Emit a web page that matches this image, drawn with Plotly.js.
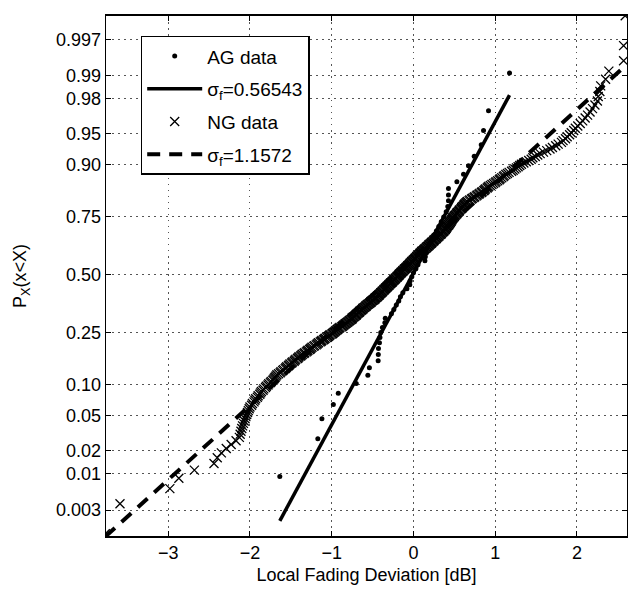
<!DOCTYPE html>
<html>
<head>
<meta charset="utf-8">
<script src="https://cdn.plot.ly/plotly-3.0.1.min.js"></script>
<style>html,body{margin:0;padding:0;background:#fff;}#chart{width:629px;height:591px;}</style>
</head>
<body>
<div id="chart"></div>
<script>
// ---------- data ----------
// AG data: sorted local fading deviation samples [dB] (54 samples)
const agX = [-1.635,-1.17,-1.12,-0.98,-0.92,-0.70,-0.558,-0.539,-0.432,-0.430,-0.428,-0.416,-0.41,-0.40,-0.38,-0.35,-0.345,-0.27,-0.24,-0.21,-0.18,-0.16,-0.13,-0.08,-0.045,-0.04,-0.02,0.00,0.03,0.055,0.14,0.145,0.15,0.16,0.19,0.22,0.25,0.28,0.31,0.34,0.37,0.40,0.42,0.428,0.428,0.428,0.531,0.612,0.673,0.743,0.829,0.857,0.918,1.175];

// NG data: sorted local fading deviation samples [dB] (400 samples)
const ngX = [
-3.77,-3.59,-2.98,-2.87,-2.68,-2.44,-2.40,-2.35,-2.29,-2.23,-2.17,-2.13,
-2.12,-2.11,-2.10,-2.09,-2.08,-2.07,-2.06,-2.05,
-2.04,-2.03,-2.02,-2.01,-2.00,-1.98,-1.97,-1.95,
-1.94,-1.93,-1.91,-1.90,-1.88,-1.87,-1.86,-1.84,-1.83,-1.81,-1.80,-1.78,
-1.77,-1.75,-1.74,-1.72,-1.71,-1.70,-1.69,-1.68,
-1.67,-1.65,-1.63,-1.62,-1.60,-1.59,-1.57,-1.56,-1.55,-1.53,-1.52,-1.51,
-1.49,-1.48,-1.46,-1.45,-1.44,-1.42,-1.41,-1.40,-1.38,-1.37,-1.36,-1.34,-1.33,-1.31,-1.30,-1.29,-1.27,-1.26,-1.25,-1.24,
-1.22,-1.21,-1.19,-1.18,-1.17,-1.16,-1.14,-1.13,-1.12,-1.10,-1.09,-1.08,-1.06,-1.05,-1.04,-1.03,-1.02,-1.00,-0.99,-0.98,
-0.97,-0.96,-0.95,-0.94,-0.93,-0.92,-0.91,-0.90,-0.88,-0.87,-0.86,-0.85,-0.84,-0.83,-0.82,-0.81,-0.80,-0.79,-0.78,-0.77,
-0.76,-0.75,-0.75,-0.74,-0.73,-0.72,-0.71,-0.70,-0.70,-0.69,-0.68,-0.67,-0.66,-0.66,-0.65,-0.64,-0.63,-0.62,-0.62,-0.61,
-0.60,-0.59,-0.58,-0.58,-0.57,-0.56,-0.55,-0.54,-0.53,-0.52,-0.52,-0.51,-0.50,-0.49,-0.48,-0.47,-0.47,-0.46,-0.45,-0.44,
-0.44,-0.43,-0.42,-0.42,-0.41,-0.40,-0.40,-0.39,-0.38,-0.38,-0.37,-0.36,-0.36,-0.35,-0.34,-0.34,-0.33,-0.32,-0.32,-0.31,
-0.30,-0.30,-0.29,-0.28,-0.28,-0.27,-0.26,-0.26,-0.25,-0.24,-0.24,-0.23,-0.22,-0.22,-0.21,-0.20,-0.20,-0.19,-0.18,-0.18,
-0.17,-0.17,-0.16,-0.15,-0.15,-0.14,-0.13,-0.13,-0.12,-0.11,-0.11,-0.10,-0.09,-0.09,-0.08,-0.07,-0.07,-0.06,-0.05,-0.05,
-0.04,-0.04,-0.03,-0.02,-0.02,-0.01,0.00,0.00,0.01,0.02,0.02,0.03,0.04,0.04,0.05,0.06,0.06,0.07,0.08,0.08,
0.09,0.10,0.10,0.11,0.12,0.13,0.13,0.14,0.15,0.16,0.16,0.17,0.18,0.19,0.19,0.20,0.21,0.22,0.22,0.23,
0.24,0.25,0.25,0.26,0.27,0.28,0.28,0.29,0.30,0.31,0.31,0.32,0.33,0.34,0.34,0.35,0.36,0.37,0.37,0.38,
0.39,0.39,0.40,0.40,0.41,0.41,0.42,0.43,0.43,0.44,0.44,0.45,0.45,0.46,0.46,0.47,0.47,0.48,0.48,0.49,
0.50,0.50,0.51,0.52,0.53,0.53,0.54,0.55,0.56,0.56,0.57,0.58,0.59,0.59,0.60,0.61,0.62,0.62,0.63,0.64,
0.65,0.66,0.68,0.69,0.71,0.72,0.74,0.75,0.77,0.78,0.80,0.81,0.83,0.84,0.86,0.87,0.88,0.90,0.91,0.92,
0.94,0.96,0.98,1.00,1.01,1.03,1.05,1.06,1.08,1.10,1.11,1.13,
1.15,1.17,1.20,1.22,1.24,1.26,1.28,1.30,
1.32,1.35,1.38,1.41,1.44,1.46,1.49,1.52,
1.55,1.59,1.63,1.67,1.70,1.74,1.77,1.81,
1.83,1.86,1.88,1.91,1.93,1.96,1.98,2.01,
2.04,2.07,2.10,2.13,2.16,2.19,2.22,2.25,
2.26,2.28,2.29,2.35,2.39,2.57,2.57,2.59];

// fitted normal parameters (legend values)
const agMu = -0.01, agSigma = 0.56543;
const ngMu = -0.23, ngSigma = 1.1572;

// probability tick labels
const probTicks = [0.003,0.01,0.02,0.05,0.10,0.25,0.50,0.75,0.90,0.95,0.98,0.99,0.997];
const probTickText = ['0.003','0.01','0.02','0.05','0.10','0.25','0.50','0.75','0.90','0.95','0.98','0.99','0.997'];

// ---------- normal probability scale ----------
function norminv(p){
  const a=[-3.969683028665376e+01,2.209460984245205e+02,-2.759285104469687e+02,1.383577518672690e+02,-3.066479806614716e+01,2.506628277459239e+00];
  const b=[-5.447609879822406e+01,1.615858368580409e+02,-1.556989798598866e+02,6.680131188771972e+01,-1.328068155288572e+01];
  const c=[-7.784894002430293e-03,-3.223964580411365e-01,-2.400758277161838e+00,-2.549732539343734e+00,4.374664141464968e+00,2.938163982698783e+00];
  const d=[7.784695709041462e-03,3.224671290700398e-01,2.445134137142996e+00,3.754408661907416e+00];
  const pl=0.02425, ph=1-pl; let q,r;
  if(p<pl){q=Math.sqrt(-2*Math.log(p));return (((((c[0]*q+c[1])*q+c[2])*q+c[3])*q+c[4])*q+c[5])/((((d[0]*q+d[1])*q+d[2])*q+d[3])*q+1);}
  if(p<=ph){q=p-0.5;r=q*q;return (((((a[0]*r+a[1])*r+a[2])*r+a[3])*r+a[4])*r+a[5])*q/(((((b[0]*r+b[1])*r+b[2])*r+b[3])*r+b[4])*r+1);}
  q=Math.sqrt(-2*Math.log(1-p));return -(((((c[0]*q+c[1])*q+c[2])*q+c[3])*q+c[4])*q+c[5])/((((d[0]*q+d[1])*q+d[2])*q+d[3])*q+1);
}
// normal probability plot: the i-th sorted sample is plotted at probability (i-0.5)/n
const probitPositions = xs => xs.map((_, i) => norminv((i + 0.5) / xs.length));

function fitLine(xs, mu, s){
  const x0 = Math.min(...xs), x1 = Math.max(...xs);
  return {x:[x0,x1], y:[(x0-mu)/s,(x1-mu)/s]};
}
const agLine = fitLine(agX, agMu, agSigma);
const ngLine = fitLine(ngX, ngMu, ngSigma);

const FONT = 'Liberation Sans, Arial, Helvetica, sans-serif';

const traces = [
  {x:agX, y:probitPositions(agX), mode:'markers', type:'scatter', name:'AG data', legendgroup:'g1',
   marker:{symbol:'circle', size:5, color:'#000'}},
  {x:agLine.x, y:agLine.y, mode:'lines', type:'scatter', name:'σ<sub>f</sub>=0.56543', legendgroup:'g2',
   line:{color:'#000', width:3.5}},
  {x:ngX, y:probitPositions(ngX), mode:'markers', type:'scatter', name:'NG data', legendgroup:'g3',
   marker:{symbol:'x-thin-open', size:9, color:'#000', line:{width:1.3, color:'#000'}}},
  {x:ngLine.x, y:ngLine.y, mode:'lines', type:'scatter', name:'σ<sub>f</sub>=1.1572', legendgroup:'g4',
   line:{color:'#000', width:4, dash:'13px,9px'}}
];

const axCommon = {
  showline:true, linecolor:'#000', mirror:'ticks', ticks:'inside', ticklen:5, tickcolor:'#000',
  showgrid:true, gridcolor:'#555', gridwidth:1, griddash:'1.5px,4.5px', zeroline:false,
  tickfont:{family:FONT, size:18, color:'#000'}
};

const layout = {
  width:629, height:591,
  margin:{l:106, r:2, t:16, b:55},
  paper_bgcolor:'#fff', plot_bgcolor:'#fff',
  font:{family:FONT, color:'#000'},
  showlegend:true,
  xaxis:Object.assign({}, axCommon, {
    range:[-3.761, 2.612], tickvals:[-3,-2,-1,0,1,2], ticktext:['\u22123','\u22122','\u22121','0','1','2'],
    linewidth:1.8,
    title:{text:'Local Fading Deviation [dB]', font:{family:FONT, size:18, color:'#000'}, standoff:6}
  }),
  yaxis:Object.assign({}, axCommon, {
    range:[-3.051, 3.02], tickvals:probTicks.map(norminv), ticktext:probTickText,
    linewidth:1.3,
    title:{text:'P<sub>X</sub>(x&lt;X)', font:{family:FONT, size:18, color:'#000'}, standoff:24}
  }),
  legend:{x:0.0666, y:0.962, xanchor:'left', yanchor:'top', bgcolor:'#fff',
    bordercolor:'#000', borderwidth:1.5, font:{family:FONT, size:19, color:'#000'},
    itemwidth:55, traceorder:'grouped', tracegroupgap:5}
};

Plotly.newPlot('chart', traces, layout, {displayModeBar:false, staticPlot:true});
</script>
</body>
</html>
